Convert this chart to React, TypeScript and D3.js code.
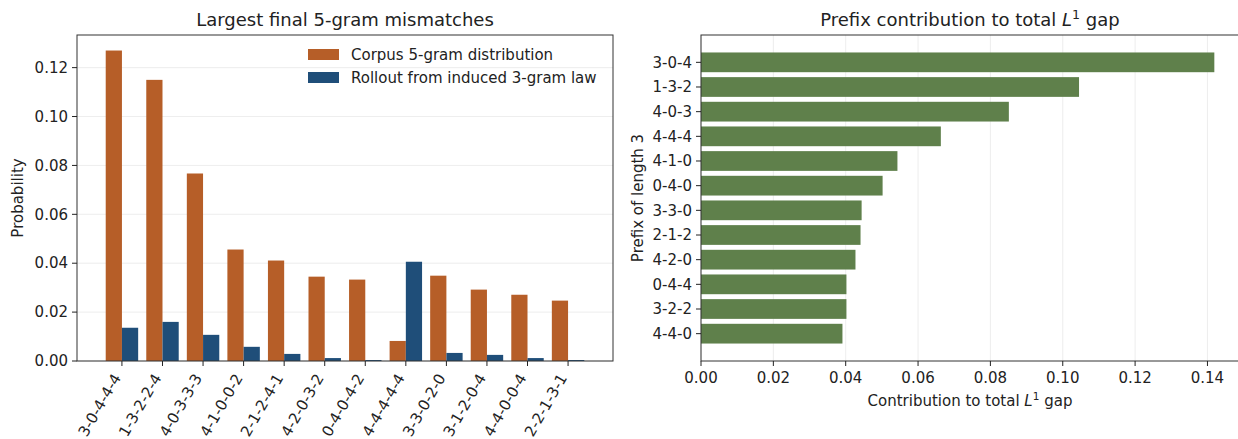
import * as d3 from 'd3';

// left panel: 5-gram mismatches
const grams = ['3-0-4-4-4', '1-3-2-2-4', '4-0-3-3-3', '4-1-0-0-2', '2-1-2-4-1', '4-2-0-3-2', '0-4-0-4-2', '4-4-4-4-4', '3-3-0-2-0', '3-1-2-0-4', '4-4-0-0-4', '2-2-1-3-1'];
const corpus = [0.127, 0.115, 0.0767, 0.0456, 0.0411, 0.0345, 0.0333, 0.0082, 0.0349, 0.0292, 0.0271, 0.0247];
const rollout = [0.0136, 0.016, 0.0107, 0.0058, 0.0029, 0.0012, 0.0004, 0.0406, 0.0033, 0.0025, 0.0012, 0.0004];
const leftTicks = [0, 0.02, 0.04, 0.06, 0.08, 0.1, 0.12];

// right panel: prefix contributions
const prefixes = ['3-0-4', '1-3-2', '4-0-3', '4-4-4', '4-1-0', '0-4-0', '3-3-0', '2-1-2', '4-2-0', '0-4-4', '3-2-2', '4-4-0'];
const contrib = [0.1419, 0.1045, 0.0851, 0.0663, 0.0543, 0.0502, 0.0444, 0.0441, 0.0427, 0.0402, 0.0402, 0.0391];
const rightTicks = [0, 0.02, 0.04, 0.06, 0.08, 0.1, 0.12, 0.14];

const ORANGE = '#b65e28';
const BLUE = '#1f4e79';
const GREEN = '#5f804b';
const GRID = '#e8e8e8';
const FONT = 'DejaVu Sans, sans-serif';
const fs = 15;
const tfs = 18;

const L = { left: 77, right: 613, top: 35, bottom: 361 };
const R = { left: 701, right: 1240, top: 35, bottom: 361 };

const App = () => {
  const n = grams.length;
  const bw = 0.4;
  const lx = d3.scaleLinear().domain([-0.4 - 0.059 * n, n - 1 + 0.4 + 0.059 * n]).range([L.left, L.right]);
  const ly = d3.scaleLinear().domain([0, d3.max(corpus)! * 1.05]).range([L.bottom, L.top]);

  const rx = d3.scaleLinear().domain([0, d3.max(contrib)! * 1.05]).range([R.left, R.right]);
  const ry = d3.scaleLinear().domain([-0.4 - 0.059 * n, n - 1 + 0.4 + 0.059 * n]).range([R.top, R.bottom]);

  const fmt = d3.format('.2f');

  return (
    <svg width={1238} height={439} style={{ position: 'absolute', left: 0, top: 0 }} fontFamily={FONT}>
      <rect width={1238} height={439} fill="#fff" />

      {/* ---- left ---- */}
      {leftTicks.map(t => (
        <line key={'g' + t} x1={L.left} x2={L.right} y1={ly(t)} y2={ly(t)} stroke={GRID} strokeWidth={0.8} />
      ))}
      {grams.map((g, i) => (
        <g key={g}>
          <rect x={lx(i - bw)} width={lx(i) - lx(i - bw)} y={ly(corpus[i])} height={ly(0) - ly(corpus[i])} fill={ORANGE} />
          <rect x={lx(i)} width={lx(i + bw) - lx(i)} y={ly(rollout[i])} height={ly(0) - ly(rollout[i])} fill={BLUE} />
        </g>
      ))}
      <rect x={L.left} y={L.top} width={L.right - L.left} height={L.bottom - L.top} fill="none" stroke="#333" strokeWidth={1} />
      {leftTicks.map(t => (
        <g key={'yt' + t}>
          <line x1={L.left - 5} x2={L.left} y1={ly(t)} y2={ly(t)} stroke="#222" />
          <text x={L.left - 9} y={ly(t)} dy="0.35em" textAnchor="end" fontSize={fs} fill="#222">{fmt(t)}</text>
        </g>
      ))}
      {grams.map((g, i) => (
        <g key={'xt' + g}>
          <line x1={lx(i)} x2={lx(i)} y1={L.bottom} y2={L.bottom + 5} stroke="#222" />
          <text transform={`translate(${lx(i) - 5},${L.bottom + 14}) rotate(-60)`} textAnchor="end" dy="0.35em" fontSize={fs} fill="#222">{g}</text>
        </g>
      ))}
      <text transform={`translate(23,${(L.top + L.bottom) / 2}) rotate(-90)`} textAnchor="middle" fontSize={fs} fill="#222">Probability</text>
      <text x={(L.left + L.right) / 2} y={26} textAnchor="middle" fontSize={tfs} fill="#222">Largest final 5-gram mismatches</text>
      {/* legend */}
      <rect x={308} y={49} width={31} height={11} fill={ORANGE} />
      <text x={351} y={54.5} dy="0.35em" fontSize={fs} fill="#222">Corpus 5-gram distribution</text>
      <rect x={308} y={72} width={31} height={11} fill={BLUE} />
      <text x={351} y={77.5} dy="0.35em" fontSize={fs} fill="#222">Rollout from induced 3-gram law</text>

      {/* ---- right ---- */}
      {rightTicks.map(t => (
        <line key={'rg' + t} x1={rx(t)} x2={rx(t)} y1={R.top} y2={R.bottom} stroke={GRID} strokeWidth={0.8} />
      ))}
      {prefixes.map((p, i) => (
        <rect key={p} x={rx(0)} width={rx(contrib[i]) - rx(0)} y={ry(i - 0.4)} height={ry(i + 0.4) - ry(i - 0.4)} fill={GREEN} />
      ))}
      <rect x={R.left} y={R.top} width={R.right - R.left} height={R.bottom - R.top} fill="none" stroke="#333" strokeWidth={1} />
      {prefixes.map((p, i) => (
        <g key={'ry' + p}>
          <line x1={R.left - 5} x2={R.left} y1={ry(i)} y2={ry(i)} stroke="#222" />
          <text x={R.left - 9} y={ry(i)} dy="0.35em" textAnchor="end" fontSize={fs} fill="#222">{p}</text>
        </g>
      ))}
      {rightTicks.map(t => (
        <g key={'rx' + t}>
          <line x1={rx(t)} x2={rx(t)} y1={R.bottom} y2={R.bottom + 5} stroke="#222" />
          <text x={rx(t)} y={R.bottom + 22} textAnchor="middle" fontSize={fs} fill="#222">{fmt(t)}</text>
        </g>
      ))}
      <text transform={`translate(643,${(R.top + R.bottom) / 2}) rotate(-90)`} textAnchor="middle" fontSize={fs} fill="#222">Prefix of length 3</text>
      <text x={970} y={406} textAnchor="middle" fontSize={fs} fill="#222">
        Contribution to total <tspan fontStyle="italic">L</tspan><tspan fontSize={fs * 0.7} dy={-6}>1</tspan><tspan dy={6}> gap</tspan>
      </text>
      <text x={970} y={26} textAnchor="middle" fontSize={tfs} fill="#222">
        Prefix contribution to total <tspan fontStyle="italic">L</tspan><tspan fontSize={tfs * 0.7} dy={-7}>1</tspan><tspan dy={7}> gap</tspan>
      </text>
    </svg>
  );
};

export default App;
